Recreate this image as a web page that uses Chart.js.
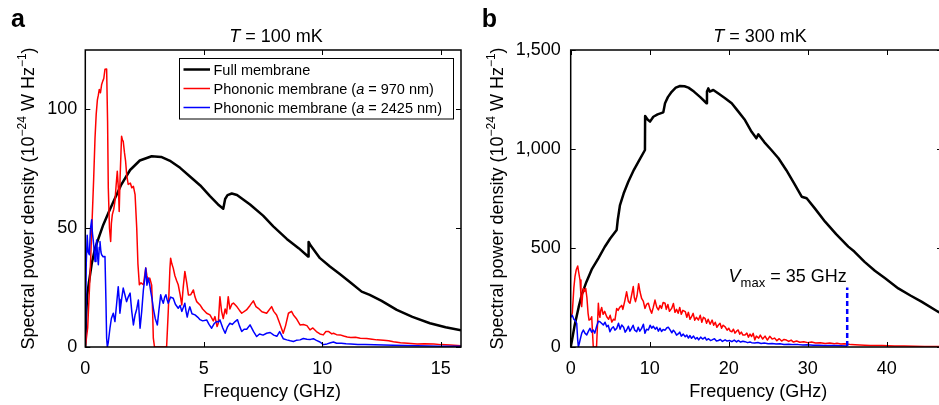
<!DOCTYPE html>
<html>
<head>
<meta charset="utf-8">
<script src="https://cdn.jsdelivr.net/npm/chart.js@4.4.1/dist/chart.umd.min.js"></script>
<style>
  html, body { margin: 0; padding: 0; background: #fff; overflow: hidden; }
  #wrap { position: relative; width: 939px; height: 405px; overflow: hidden; }
  #chartA { position: absolute; left: 0; top: 0; width: 470px; height: 405px; }
  #chartB { position: absolute; left: 470px; top: 0; width: 480px; height: 405px; }
</style>
</head>
<body>
<div id="wrap">
  <canvas id="chartA" width="470" height="405"></canvas>
  <canvas id="chartB" width="480" height="405"></canvas>
</div>
<script>
// Panel a, T = 100 mK  -- [frequency GHz, PSD 1e-24 W/Hz]
const fullA = [[0,0],[0.03,12],[0.08,22],[0.15,27],[0.27,35],[0.41,41.5],[0.6,47],[0.76,51.5],[1.0,57],[1.18,61],
  [1.5,68],[1.89,74.5],[2.3,78.5],[2.8,80.3],[3.2,80],[3.6,78.2],[4.0,75.4],[4.5,71],[4.85,68],[5.26,63.5],
  [5.6,60],[5.82,58.2],[5.9,62.3],[6.0,63.9],[6.18,64.6],[6.4,64.0],[6.95,60],[7.5,55.3],[7.93,50.8],[8.5,45.5],
  [9.0,41.6],[9.4,38.1],[9.42,44.2],[9.5,42.8],[9.9,37.4],[10.32,33.9],[10.75,30.6],[11.2,27],[11.66,23.3],[12.0,21.9],
  [12.5,19.4],[13.14,15.6],[13.8,12.7],[14.54,10],[15.2,8.3],[15.85,7.0]];

const phon970A = [[0,0],[0.1,8],[0.2,30],[0.27,48.6],[0.35,70],[0.41,88],[0.46,98],[0.51,104],[0.55,106],[0.59,108.4],
  [0.64,107],[0.69,110.5],[0.74,112],[0.78,113],[0.83,116.9],[0.9,117],[0.94,95],[0.97,67],[1.02,50],[1.07,44.4],
  [1.1,52],[1.14,55.7],[1.2,58],[1.25,61.3],[1.3,68],[1.35,74],[1.4,66],[1.43,57],[1.47,72],[1.53,88.7],
  [1.57,87],[1.6,86.6],[1.65,82],[1.7,78.2],[1.75,72],[1.81,68.4],[1.9,69],[1.96,67],[2.03,67.6],[2.1,64.1],
  [2.17,50],[2.22,35],[2.28,26.2],[2.35,27],[2.45,26.2],[2.55,33.2],[2.6,30],[2.66,27.6],[2.72,29],[2.8,26],
  [2.84,15],[2.87,3.7],[2.92,0],[3.43,0],[3.5,15],[3.57,33],[3.6,37.4],[3.65,35],[3.71,33.2],[3.78,30],
  [3.85,28],[3.92,26.2],[4.0,22],[4.07,17.7],[4.13,25],[4.2,31.8],[4.28,27],[4.35,21.9],[4.45,22],[4.56,24],
  [4.63,21],[4.7,19.1],[4.84,17.7],[4.95,16],[5.12,14.2],[5.26,13.5],[5.4,11],[5.47,12.8],[5.56,8.6],[5.61,10],
  [5.68,21.2],[5.75,15],[5.82,12],[5.9,16],[5.96,14],[6.03,21.2],[6.1,16],[6.18,18],[6.25,18.5],[6.4,16.9],
  [6.5,15.5],[6.6,14.2],[6.8,15.6],[6.95,17.5],[7.09,19.4],[7.2,17],[7.3,16.3],[7.45,14.8],[7.65,14.2],[7.86,17],
  [7.95,15],[8.07,13.5],[8.2,10],[8.35,5.8],[8.45,9],[8.57,14.2],[8.7,15],[8.78,13.5],[8.9,12],[9.06,9.3],
  [9.2,9.5],[9.35,9],[9.48,7.2],[9.6,8],[9.75,6.5],[9.9,5.5],[10.04,5.1],[10.15,6.5],[10.27,6.5],[10.4,5.5],
  [10.47,5.8],[10.6,5.2],[10.75,5.1],[10.9,4.6],[11.05,4.2],[11.2,4],[11.4,4.1],[11.6,3.7],[11.87,3.6],[12.1,3.3],
  [12.3,3.0],[12.58,2.8],[12.8,2.6],[13.0,2.2],[13.3,1.8],[13.6,1.6],[14.0,1.3],[14.3,1.4],[14.7,1.3],[15.0,1.0],
  [15.4,0.8],[15.85,0.5]];

const phon2425A = [[0,0],[0.04,35],[0.08,47],[0.12,40],[0.17,38.8],[0.22,50],[0.27,53.6],[0.3,48],[0.34,44.4],[0.38,40],
  [0.41,36],[0.45,42],[0.48,45],[0.52,38],[0.55,34.6],[0.59,42],[0.62,44.4],[0.66,40],[0.69,38.8],[0.75,38],
  [0.83,38.1],[0.87,20],[0.9,3.7],[0.93,0],[0.97,2],[1.04,7.9],[1.1,12],[1.18,14.2],[1.25,10.7],[1.32,18],
  [1.39,25.4],[1.43,20],[1.46,14.2],[1.53,20],[1.6,24.8],[1.67,22],[1.74,19.1],[1.81,21],[1.89,22.7],[1.96,15],
  [2.03,9.3],[2.1,13.5],[2.17,16],[2.24,19.8],[2.31,7.9],[2.38,15],[2.45,24],[2.5,28],[2.55,33.2],[2.6,26],
  [2.66,29],[2.72,26],[2.76,23.4],[2.82,20],[2.87,16.3],[2.95,12],[3.04,9.3],[3.1,15],[3.18,22],[3.23,20],
  [3.29,18.4],[3.35,21],[3.4,22],[3.45,20],[3.5,18.4],[3.6,21],[3.71,20.5],[3.8,18],[3.92,16.3],[4.0,17.5],
  [4.07,15],[4.13,16.5],[4.2,18.4],[4.25,15],[4.3,12.6],[4.35,15],[4.41,16.9],[4.5,14],[4.63,13.5],[4.75,12.5],
  [4.84,11.5],[4.95,11],[5.12,11.4],[5.22,9.5],[5.33,7.9],[5.45,10],[5.54,10.7],[5.62,10.5],[5.68,11.4],[5.8,8],
  [5.9,5.8],[6.0,8.5],[6.1,10],[6.2,9.5],[6.32,10.7],[6.42,11.5],[6.5,9],[6.6,6.5],[6.7,7.5],[6.81,7.5],
  [6.95,9.3],[7.1,6.5],[7.23,4.4],[7.35,5.5],[7.5,5],[7.65,5.8],[7.8,6.1],[7.95,5],[8.08,4.5],[8.2,6.5],
  [8.35,3.5],[8.5,3],[8.65,2.6],[8.78,2.3],[8.9,2.8],[9.06,3],[9.2,3.6],[9.35,3.3],[9.5,3.2],[9.62,3.5],
  [9.75,2.8],[9.9,2.1],[10.04,1.0],[10.2,1.3],[10.35,1.8],[10.47,2.1],[10.6,1.6],[10.8,1.6],[11.0,1.4],[11.2,1.3],
  [11.5,1.1],[11.8,1.0],[12.2,0.9],[12.6,0.8],[13.0,0.7],[13.5,0.6],[14.0,0.5],[14.5,0.4],[15.0,0.35],[15.85,0.3]];

// Panel b, T = 300 mK
const fullB = [[0,0],[0.13,27],[0.5,110],[1.0,200],[1.39,263],[2.0,330],[2.7,395],[3.5,448],[4.3,505],[5.0,548],
  [5.82,591],[5.95,640],[6.24,717],[6.7,775],[7.29,835],[8.0,895],[8.7,945],[9.4,995],[9.42,1167],[9.7,1150],
  [10.04,1138],[10.46,1163],[11.0,1175],[11.72,1185],[11.94,1231],[12.3,1262],[12.78,1289],[13.3,1310],[13.84,1318],[14.4,1317],
  [14.9,1310],[15.6,1290],[16.4,1262],[17.2,1231],[17.25,1290],[17.42,1306],[17.6,1290],[18.05,1298],[18.7,1280],[19.5,1258],
  [20.38,1231],[21.0,1200],[22.06,1146],[22.9,1087],[23.5,1054],[23.75,1074],[24.5,1035],[25.4,995],[26.3,953],[27.3,893],
  [28.3,825],[29.24,759],[29.87,751],[31.0,695],[32.2,633],[33.6,570],[35.14,507],[35.9,482],[37.2,430],[38.5,385],
  [39.8,347],[41.47,296],[43.0,260],[44.4,229],[46.5,178],[47,170]];

const phon970B = [[0,150],[0.2,170],[0.4,300],[0.54,355],[0.7,390],[0.89,409],[1.0,380],[1.18,338],[1.3,260],[1.39,204],
  [1.5,260],[1.6,296],[1.75,280],[1.9,296],[2.05,250],[2.2,170],[2.32,136],[2.5,140],[2.66,153],[2.75,80],
  [2.86,0],[3.27,0],[3.4,120],[3.5,221],[3.6,170],[3.7,150],[3.8,185],[3.92,200],[4.1,165],[4.3,180],
  [4.56,153],[4.8,140],[5.0,160],[5.2,126],[5.4,140],[5.6,136],[5.82,195],[6.0,185],[6.2,200],[6.46,210],
  [6.6,190],[6.87,237],[7.08,279],[7.3,230],[7.5,221],[7.7,260],[7.92,305],[8.05,250],[8.2,229],[8.4,260],
  [8.6,320],[8.77,279],[8.98,245],[9.2,230],[9.4,195],[9.6,215],[9.83,221],[10.05,190],[10.25,170],[10.45,200],
  [10.67,237],[10.9,200],[11.1,187],[11.3,210],[11.5,195],[11.7,225],[11.94,221],[12.1,190],[12.3,215],[12.5,180],
  [12.78,195],[13.0,220],[13.2,175],[13.4,190],[13.6,170],[13.8,200],[14.0,165],[14.2,185],[14.5,179],[14.7,150],
  [14.9,175],[15.1,140],[15.3,153],[15.5,170],[15.7,135],[15.9,150],[16.17,136],[16.4,160],[16.6,125],[16.8,150],
  [17.0,145],[17.2,120],[17.4,140],[17.65,115],[17.9,136],[18.1,110],[18.3,125],[18.5,100],[18.7,111],[18.9,120],
  [19.1,95],[19.3,110],[19.55,102],[19.8,85],[20.0,95],[20.2,80],[20.4,77],[20.6,90],[20.8,70],[21.0,80],
  [21.2,86],[21.4,65],[21.6,75],[21.8,60],[22.06,61],[22.3,70],[22.5,50],[22.7,65],[22.9,53],[23.1,69],
  [23.3,36],[23.5,55],[23.8,45],[24.0,60],[24.3,40],[24.6,55],[24.9,35],[25.2,54],[25.5,40],[25.8,45],
  [26.1,32],[26.4,42],[26.7,30],[27.0,38],[27.3,35],[27.6,28],[27.9,35],[28.2,25],[28.6,30],[29.0,24],
  [29.5,27],[30.0,22],[30.5,25],[31.0,20],[31.6,22],[32.2,18],[32.8,20],[33.4,17],[33.7,19],[34.2,15],
  [34.6,17],[35.0,15],[35.5,12],[36.0,11],[36.6,10],[37.2,9],[37.9,8],[38.6,7],[39.4,7],[40.2,6],
  [41.0,5],[42.2,5],[43.5,4],[44.8,3],[46.0,2],[47,2]];

const phon2425B = [[0,150],[0.2,160],[0.4,140],[0.54,136],[0.76,120],[0.88,40],[0.97,0],[1.1,20],[1.18,34],[1.4,70],
  [1.6,86],[1.8,70],[2.03,61],[2.25,80],[2.44,94],[2.65,75],[2.86,86],[3.05,70],[3.27,102],[3.5,130],
  [3.7,128],[3.9,120],[4.13,111],[4.35,125],[4.56,102],[4.75,110],[4.97,77],[5.2,95],[5.4,102],[5.6,85],
  [5.82,94],[6.05,120],[6.25,90],[6.46,111],[6.7,100],[6.9,75],[7.08,86],[7.3,105],[7.5,80],[7.7,94],
  [7.9,110],[8.1,85],[8.35,77],[8.55,100],[8.75,80],[8.98,94],[9.2,115],[9.4,69],[9.6,90],[9.83,86],
  [10.05,110],[10.25,95],[10.45,105],[10.7,90],[10.9,100],[11.1,80],[11.3,95],[11.5,78],[11.7,88],[11.95,85],
  [12.15,96],[12.35,100],[12.6,85],[12.8,72],[13.0,85],[13.2,75],[13.4,60],[13.6,66],[13.8,75],[14.0,55],
  [14.25,65],[14.5,52],[14.7,60],[14.9,45],[15.1,58],[15.3,44],[15.55,55],[15.8,40],[16.0,48],[16.2,36],
  [16.45,50],[16.7,40],[17.0,49],[17.2,35],[17.45,42],[17.7,33],[17.9,36],[18.2,42],[18.45,30],[18.7,33],
  [18.95,38],[19.2,28],[19.55,36],[19.8,30],[20.1,33],[20.4,27],[20.7,35],[21.0,26],[21.2,33],[21.5,25],
  [21.8,29],[22.06,27],[22.4,22],[22.7,25],[22.9,22],[23.3,20],[23.7,23],[24.1,18],[24.5,20],[25.0,17],
  [25.5,18],[26.0,15],[26.5,16],[27.0,13],[27.6,14],[28.2,12],[28.8,12],[29.4,10],[30.0,11],[30.7,9],
  [31.4,9],[32.1,8],[32.8,8],[33.5,7],[34.2,6],[35.0,5]];

const vmaxLine = [[35,5],[35,300]];

const xTicksA = [0, 5, 10, 15];
const yTicksA = [0, 50, 100];
const xTicksB = [0, 10, 20, 30, 40];
const yTicksB = [0, 500, 1000, 1500];
const yTickLabelsB = ['0', '500', '1,000', '1,500'];

const FONT = '"Liberation Sans", Arial, Helvetica, sans-serif';
const f = (size, style = '') => `${style} ${size}px ${FONT}`;

function toPoints(pairs) {
  return pairs.map(([x, y]) => ({ x, y }));
}

function lineSet(pairs, color, width, extra = {}) {
  return Object.assign({
    data: toPoints(pairs),
    borderColor: color,
    borderWidth: width,
    pointRadius: 0,
    tension: 0,
    fill: false,
    borderJoinStyle: 'round'
  }, extra);
}

// draw a run of text pieces with different fonts / vertical offsets
function drawRuns(ctx, runs, x, y, align) {
  let w = 0;
  runs.forEach(r => { ctx.font = r.font; w += ctx.measureText(r.t).width; });
  let cx = align === 'center' ? x - w / 2 : (align === 'right' ? x - w : x);
  runs.forEach(r => {
    ctx.font = r.font;
    ctx.fillText(r.t, cx, y + (r.dy || 0));
    cx += ctx.measureText(r.t).width;
  });
}

const yTitleRuns = [
  { t: 'Spectral power density (10', font: f(18) },
  { t: '\u221224', font: f(12), dy: -8 },
  { t: ' W Hz', font: f(18) },
  { t: '\u22121', font: f(12), dy: -8 },
  { t: ')', font: f(18) }
];

// frame with inward ticks on all four sides
const framePlugin = {
  id: 'frame',
  afterDatasetsDraw(chart) {
    const { ctx, chartArea: a, scales: { x, y } } = chart;
    ctx.save();
    ctx.strokeStyle = '#000';
    ctx.lineWidth = 1;
    ctx.beginPath();
    x.ticks.forEach(t => {
      const px = Math.round(x.getPixelForValue(t.value)) + 0.5;
      ctx.moveTo(px, a.bottom); ctx.lineTo(px, a.bottom - 5);
      ctx.moveTo(px, a.top); ctx.lineTo(px, a.top + 5);
    });
    y.ticks.forEach(t => {
      const py = Math.round(y.getPixelForValue(t.value)) + 0.5;
      ctx.moveTo(a.left, py); ctx.lineTo(a.left + 5, py);
      ctx.moveTo(a.right, py); ctx.lineTo(a.right - 5, py);
    });
    ctx.stroke();
    ctx.lineWidth = 1.5;
    ctx.strokeRect(a.left, a.top, a.right - a.left, a.bottom - a.top);
    ctx.restore();
  }
};

function textPlugin(id, draw) {
  return {
    id,
    afterDraw(chart) {
      const ctx = chart.ctx;
      ctx.save();
      ctx.fillStyle = '#000';
      ctx.textAlign = 'left';
      ctx.textBaseline = 'alphabetic';
      draw(ctx, chart);
      ctx.restore();
    }
  };
}

function axisOptions(ticks, labels, max, fitKey, fitVal, pad) {
  return {
    type: 'linear',
    min: 0,
    max,
    grid: { display: false, drawTicks: false },
    border: { display: false },
    afterBuildTicks: s => { s.ticks = ticks.map(v => ({ value: v })); },
    afterFit: s => { s[fitKey] = fitVal; },
    ticks: {
      color: '#000',
      padding: pad,
      maxRotation: 0,
      font: { family: FONT, size: 18 },
      callback: v => labels ? labels[ticks.indexOf(v)] : String(v)
    }
  };
}

const baseOptions = {
  responsive: false,
  animation: false,
  plugins: { legend: { display: false }, tooltip: { enabled: false } }
};

// ---- panel a ----
new Chart(document.getElementById('chartA'), {
  type: 'line',
  data: {
    datasets: [
      lineSet(phon2425A, '#0000ff', 1.5),
      lineSet(phon970A, '#ff0000', 1.5),
      lineSet(fullA, '#000000', 2.5)
    ]
  },
  options: Object.assign({}, baseOptions, {
    layout: { padding: { left: 0, right: 9, top: 50, bottom: 0 } },
    scales: {
      x: axisOptions(xTicksA, null, 15.85, 'height', 58, 11),
      y: axisOptions(yTicksA, null, 125, 'width', 85.3, 8)
    }
  }),
  plugins: [framePlugin, textPlugin('textA', (ctx) => {
    ctx.font = f(25, 'bold');
    ctx.fillText('a', 11, 26.7);
    drawRuns(ctx, [
      { t: 'T', font: f(18, 'italic') },
      { t: ' = 100 mK', font: f(18) }
    ], 276, 41.7, 'center');
    drawRuns(ctx, [{ t: 'Frequency (GHz)', font: f(18) }], 272, 397, 'center');
    ctx.save();
    ctx.translate(34, 198.5);
    ctx.rotate(-Math.PI / 2);
    drawRuns(ctx, yTitleRuns, 0, 0, 'center');
    ctx.restore();

    // legend
    ctx.fillStyle = '#fff';
    ctx.fillRect(179.5, 58.5, 274, 60.5);
    ctx.strokeStyle = '#000';
    ctx.lineWidth = 1;
    ctx.strokeRect(179.5, 58.5, 274, 60.5);
    const rows = [
      { color: '#000000', w: 2.5, runs: [{ t: 'Full membrane', font: f(14.5) }] },
      { color: '#ff0000', w: 1.5, runs: [{ t: 'Phononic membrane (', font: f(14.5) }, { t: 'a', font: f(14.5, 'italic') }, { t: ' = 970 nm)', font: f(14.5) }] },
      { color: '#0000ff', w: 1.5, runs: [{ t: 'Phononic membrane (', font: f(14.5) }, { t: 'a', font: f(14.5, 'italic') }, { t: ' = 2425 nm)', font: f(14.5) }] }
    ];
    rows.forEach((r, i) => {
      const yy = 69.5 + i * 19;
      ctx.strokeStyle = r.color;
      ctx.lineWidth = r.w;
      ctx.beginPath();
      ctx.moveTo(183.5, yy);
      ctx.lineTo(210, yy);
      ctx.stroke();
      ctx.fillStyle = '#000';
      drawRuns(ctx, r.runs, 213.5, yy + 5, 'left');
    });
  })]
});

// ---- panel b ----
new Chart(document.getElementById('chartB'), {
  type: 'line',
  data: {
    datasets: [
      lineSet(vmaxLine, '#0000ff', 2.5, { borderDash: [5, 3], borderCapStyle: 'butt' }),
      lineSet(phon2425B, '#0000ff', 1.5),
      lineSet(phon970B, '#ff0000', 1.5),
      lineSet(fullB, '#000000', 2.5)
    ]
  },
  options: Object.assign({}, baseOptions, {
    layout: { padding: { left: 0, right: 8, top: 50, bottom: 0 } },
    scales: {
      x: axisOptions(xTicksB, null, 47, 'height', 58, 11),
      y: axisOptions(yTicksB, yTickLabelsB, 1500, 'width', 100.7, 10)
    }
  }),
  plugins: [framePlugin, textPlugin('textB', (ctx) => {
    ctx.font = f(25, 'bold');
    ctx.fillText('b', 11.7, 26.7);
    drawRuns(ctx, [
      { t: 'T', font: f(18, 'italic') },
      { t: ' = 300 mK', font: f(18) }
    ], 290, 41.7, 'center');
    drawRuns(ctx, [{ t: 'Frequency (GHz)', font: f(18) }], 288.3, 397, 'center');
    ctx.save();
    ctx.translate(33, 198.5);
    ctx.rotate(-Math.PI / 2);
    drawRuns(ctx, yTitleRuns, 0, 0, 'center');
    ctx.restore();
    drawRuns(ctx, [
      { t: 'V', font: f(18, 'italic') },
      { t: 'max', font: f(13), dy: 5 },
      { t: ' = 35 GHz', font: f(18) }
    ], 376.7, 281.7, 'right');
  })]
});
</script>
</body>
</html>
